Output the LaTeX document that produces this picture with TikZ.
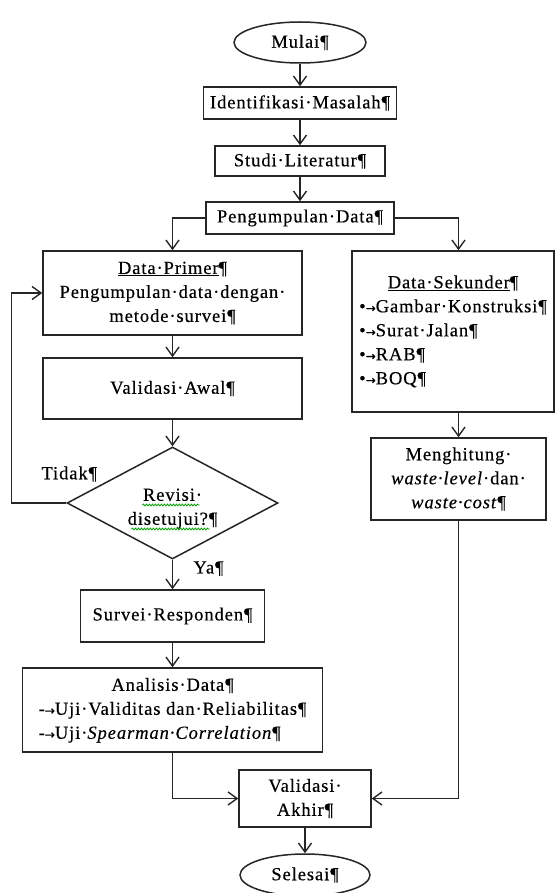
\documentclass[tikz,border=0pt]{standalone}
\usepackage{fontspec}
\setmainfont{Liberation Serif}[LetterSpace=5,Ligatures=NoCommon,FakeBold=0.4]
\newfontfamily\symf{DejaVu Sans}[FakeBold=0.6]
\usepackage{graphicx}
\usetikzlibrary{shapes.geometric,arrows.meta,calc,decorations.pathmorphing}
\newcommand{\pil}{{\symf\fontsize{12}{12}\selectfont →}}
\begin{document}
\begin{tikzpicture}[x=1pt,y=-1pt,
  every node/.style={font=\fontsize{18.5}{24}\selectfont, text=black},
  box/.style={draw=black!85, line width=1.5pt, rectangle, inner sep=0pt, align=center},
  oval/.style={draw=black!85, line width=1.5pt, ellipse, inner sep=0pt},
  dec/.style={draw=black!85, line width=1.5pt, diamond, aspect=1.88, inner sep=0pt, align=center},
  conn/.style={draw=black!85, line width=1.4pt, -{Straight Barb[length=9pt,width=13pt,line width=1.4pt]}},
  squig/.style={draw=green!60!black, line width=0.8pt, decorate, decoration={snake, amplitude=0.9pt, segment length=3pt}},
]
\useasboundingbox (0,0) rectangle (555,893);

\node[oval, minimum width=132pt, minimum height=41pt] (mulai) at (300,42.5) {Mulai¶};
\node[box, minimum width=193pt, minimum height=32pt] (ident) at (300,103) {Identifikasi·Masalah¶};
\node[box, minimum width=170pt, minimum height=30pt] (studi) at (300,161) {Studi·Literatur¶};
\node[box, minimum width=188pt, minimum height=32pt] (peng) at (300,218) {Pengumpulan·Data¶};
\node[box, minimum width=259pt, minimum height=84pt] (prim) at (172.5,293) {\underline{Data·Primer}¶\\Pengumpulan·data·dengan·\\metode·survei¶};
\node[box, minimum width=259pt, minimum height=61pt] (vawal) at (172.5,388.5) {Validasi·Awal¶};
\node[dec, minimum width=211pt, minimum height=112pt] (dia) at (172.5,503) {\raisebox{-5pt}[\height][\depth]{\begin{tabular}{@{}c@{}}Revisi·\\disetujui?¶\end{tabular}}};
\node (tidak) at ($(dia.west)+(3,-29)$) {Tidak¶};
\node[box, minimum width=184pt, minimum height=52pt] (surv) at (172.5,616) {Survei·Responden¶};
\node[box, minimum width=300pt, minimum height=84pt] (anal) at (172.5,710) {\begin{tabular}{@{}l@{}}\multicolumn{1}{@{}c@{}}{Analisis·Data¶}\\-\pil Uji·Validitas dan·Reliabilitas¶\\-\pil Uji·\textit{Spearman·Correlation}¶\end{tabular}};
\node[box, minimum width=132pt, minimum height=57pt] (vakhir) at (305,798.5) {Validasi·\\Akhir¶};
\node[oval, minimum width=130pt, minimum height=42pt] (selesai) at (305,875) {Selesai¶};
\node[box, minimum width=202pt, minimum height=161pt] (sek) at (453,331.5) {\begin{tabular}{@{}l@{}}\multicolumn{1}{@{}c@{}}{\underline{Data·Sekunder}¶}\\•\pil Gambar·Konstruksi¶\\•\pil Surat·Jalan¶\\•\pil RAB¶\\•\pil BOQ¶\end{tabular}};
\node[box, minimum width=175pt, minimum height=82pt] (meng) at (458.5,479) {Menghitung·\\\textit{waste·level}·dan·\\\textit{waste·cost}¶};

\draw[conn] (mulai.south) -- (ident.north);
\draw[conn] (ident.south) -- (studi.north);
\draw[conn] (studi.south) -- (peng.north);
\draw[conn] (peng.west) -| (prim.north);
\draw[conn] (peng.east) -| (meng.north |- sek.north);
\draw[conn] (prim.south) -- (vawal.north);
\draw[conn] (vawal.south) -- (dia.north);
\draw[conn] (dia.west) -- ++(-55,0) |- (prim.west);
\draw[conn] (dia.south) -- node[pos=0.3, anchor=west, xshift=17pt] (ya) {Ya¶} (surv.north);
\draw[conn] (surv.south) -- (anal.north);
\draw[conn] (meng.north |- sek.south) -- (meng.north);
\draw[conn] (anal.south) |- (vakhir.west);
\draw[conn] (meng.south) |- (vakhir.east);
\draw[conn] (vakhir.south) -- (selesai.north);

\draw[squig] ($(dia.center)+(-30,2)$) -- ($(dia.center)+(27,2)$);
\draw[squig] ($(dia.center)+(-41,26)$) -- ($(dia.center)+(37,26)$);
\end{tikzpicture}
\end{document}
